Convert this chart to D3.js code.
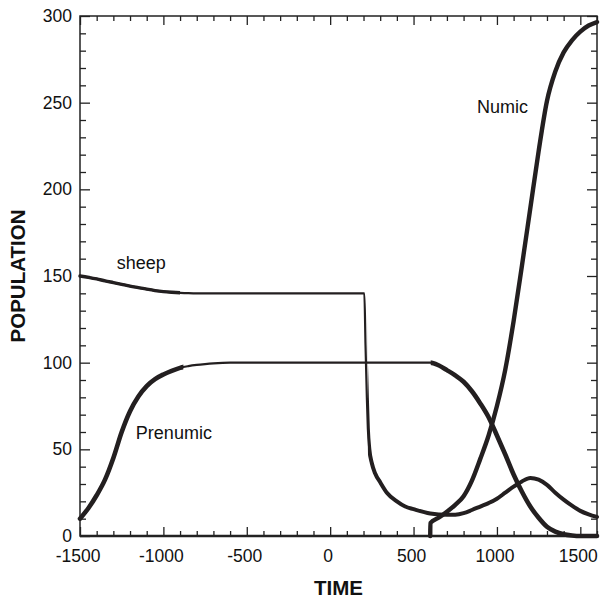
<!DOCTYPE html>
<html>
<head>
<meta charset="utf-8">
<script src="https://cdn.jsdelivr.net/npm/d3@7"></script>
<style>
  body { margin: 0; background: #fff; }
  svg { display: block; font-family: "Liberation Sans", Arial, sans-serif; }
</style>
</head>
<body>
<svg id="chart" width="601" height="598"></svg>
<script>
// values
const sheepTime = [-1500, -1450, -1400, -1350, -1300, -1250, -1200, -1150, -1100, -1050, -1000, -950, -900, -850, -800, -700, 0, 205, 212, 220, 226, 235, 250, 270, 300, 340, 400, 450, 500, 600, 700, 750, 800, 850, 900, 950, 1000, 1050, 1100, 1150, 1200, 1250, 1300, 1350, 1400, 1450, 1500, 1550, 1600]
const sheepPop = [150, 149.2, 148.3, 147.2, 146.2, 145.2, 144.2, 143.3, 142.4, 141.6, 141, 140.6, 140.3, 140.1, 140, 140, 140, 140, 110, 80, 62, 50, 42, 36, 31, 25, 20, 17, 15.5, 13, 12.2, 12.3, 13.2, 15, 17, 19, 21.5, 25, 28.5, 31.5, 33.5, 32.5, 29.5, 25, 21, 17.5, 14.5, 12.5, 11]

const prenumicTime = [-1500, -1450, -1400, -1350, -1300, -1250, -1200, -1150, -1100, -1050, -1000, -950, -900, -850, -800, -750, -700, -600, 0, 600, 650, 700, 750, 800, 850, 900, 950, 1000, 1050, 1100, 1150, 1200, 1250, 1300, 1350, 1400, 1450, 1500, 1600]
const prenumicPop = [10, 16, 23.5, 32.5, 45, 60, 72, 80.5, 86.5, 90.5, 93.2, 95.3, 97, 98, 98.7, 99.2, 99.6, 100, 100, 100, 98.5, 95.7, 92.7, 89, 83.5, 76.5, 68.5, 58, 47, 35.5, 25.5, 17, 10.5, 5.3, 2.5, 1, 0.3, 0, 0]

const numicTime = [600, 601, 650, 700, 750, 800, 850, 900, 950, 1000, 1050, 1100, 1150, 1200, 1250, 1300, 1350, 1400, 1450, 1500, 1550, 1600]
const numicPop = [0, 7.5, 10.5, 14, 18, 23, 32, 44.5, 58, 75, 96, 124, 156, 189, 222, 251, 268, 279, 286, 291, 294.5, 296.5]

const xMajor = [-1500, -1000, -500, 0, 500, 1000, 1500]
const yMajor = [0, 50, 100, 150, 200, 250, 300]

const labels = [
  { text: 'sheep', t: -1280, v: 154 },
  { text: 'Prenumic', t: -1165, v: 56 },
  { text: 'Numic', t: 880, v: 244 }
]

const width = 601
const height = 598
const margin = { top: 16, right: 4, bottom: 62, left: 80 }

const svg = d3.select('#chart')

const x = d3.scaleLinear().domain([-1500, 1600]).range([margin.left, width - margin.right])
const y = d3.scaleLinear().domain([0, 300]).range([height - margin.bottom, margin.top])

const xMinor = d3.range(-1500, 1601, 100).filter(d => !xMajor.includes(d))
const yMinor = d3.range(0, 301, 10).filter(d => !yMajor.includes(d))

const plain = d => String(d)

// axes, ticks pointing inward on all four sides
const axisB = svg.append('g').attr('transform', `translate(0,${y(0)})`)
axisB.call(d3.axisBottom(x).tickValues(xMajor).tickFormat(plain).tickSize(-9).tickSizeOuter(0).tickPadding(14))
axisB.selectAll('.tick text').attr('dx', -2.5)
axisB.append('g').call(d3.axisBottom(x).tickValues(xMinor).tickSize(-5).tickSizeOuter(0).tickFormat(''))

const axisT = svg.append('g').attr('transform', `translate(0,${y(300)})`)
axisT.call(d3.axisTop(x).tickValues(xMajor).tickSize(-9).tickSizeOuter(0).tickFormat(''))
axisT.append('g').call(d3.axisTop(x).tickValues(xMinor).tickSize(-5).tickSizeOuter(0).tickFormat(''))

const axisL = svg.append('g').attr('transform', `translate(${x(-1500)},0)`)
axisL.call(d3.axisLeft(y).tickValues(yMajor).tickFormat(plain).tickSize(-10).tickSizeOuter(0).tickPadding(8))
axisL.append('g').call(d3.axisLeft(y).tickValues(yMinor).tickSize(-6).tickSizeOuter(0).tickFormat(''))

const axisR = svg.append('g').attr('transform', `translate(${x(1600)},0)`)
axisR.call(d3.axisRight(y).tickValues(yMajor).tickSize(-10).tickSizeOuter(0).tickFormat(''))
axisR.append('g').call(d3.axisRight(y).tickValues(yMinor).tickSize(-6).tickSizeOuter(0).tickFormat(''))

svg.selectAll('.domain').remove()
svg.selectAll('.tick line').attr('stroke', '#222').attr('stroke-width', 1.3)
svg.selectAll('.tick text')
  .attr('fill', '#111')
  .style('font-size', '17.5px')
  .style('font-family', '"Liberation Sans", Arial, sans-serif')

// frame
svg.append('rect')
  .attr('x', x(-1500)).attr('y', y(300))
  .attr('width', x(1600) - x(-1500)).attr('height', y(0) - y(300))
  .attr('fill', 'none').attr('stroke', '#222').attr('stroke-width', 1.5)
svg.append('line')
  .attr('x1', x(-1500)).attr('x2', x(1600))
  .attr('y1', y(0)).attr('y2', y(0))
  .attr('stroke', '#222').attr('stroke-width', 2.6)

const line = d3.line()
  .x(d => x(d[0]))
  .y(d => y(d[1]))
  .curve(d3.curveMonotoneX)

const sheep = d3.zip(sheepTime, sheepPop)
const prenumic = d3.zip(prenumicTime, prenumicPop)
const numic = d3.zip(numicTime, numicPop)

// clip regions used to draw the densely sampled (thicker) stretches
const defs = svg.append('defs')
function clipRange(id, t0, t1) {
  defs.append('clipPath').attr('id', id)
    .append('rect')
    .attr('x', x(t0)).attr('y', 0)
    .attr('width', x(t1) - x(t0)).attr('height', height)
  return `url(#${id})`
}

const curves = svg.append('g').attr('fill', 'none').attr('stroke', '#231f20')
  .attr('stroke-linejoin', 'round').attr('stroke-linecap', 'round')

// thin base lines
curves.append('path').attr('d', line(sheep)).attr('stroke-width', 2.2)
curves.append('path').attr('d', line(prenumic)).attr('stroke-width', 2.2)

// thick stretches
curves.append('path').attr('d', line(sheep)).attr('stroke-width', 3.4)
  .attr('clip-path', clipRange('c1', -1600, -900))
curves.append('path').attr('d', line(sheep)).attr('stroke-width', 4)
  .attr('clip-path', clipRange('c2', 226, 1700))
curves.append('path').attr('d', line(prenumic)).attr('stroke-width', 4.6)
  .attr('clip-path', clipRange('c3', -1600, -880))
curves.append('path').attr('d', line(prenumic)).attr('stroke-width', 4.6)
  .attr('clip-path', clipRange('c4', 603, 1700))
curves.append('path').attr('d', line(numic)).attr('stroke-width', 4.4)

// series labels
svg.append('g').selectAll('text')
  .data(labels)
  .join('text')
  .attr('x', d => x(d.t))
  .attr('y', d => y(d.v))
  .attr('fill', '#111')
  .style('font-size', '18px')
  .text(d => d.text)

// axis titles
svg.append('text')
  .attr('x', (x(-1500) + x(1600)) / 2)
  .attr('y', 595)
  .attr('text-anchor', 'middle')
  .style('font-size', '20.5px')
  .style('font-weight', 'bold')
  .attr('fill', '#111')
  .text('TIME')

svg.append('text')
  .attr('transform', `translate(25,${(y(0) + y(300)) / 2}) rotate(-90)`)
  .attr('text-anchor', 'middle')
  .style('font-size', '20.5px')
  .style('font-weight', 'bold')
  .attr('fill', '#111')
  .text('POPULATION')
</script>
</body>
</html>
